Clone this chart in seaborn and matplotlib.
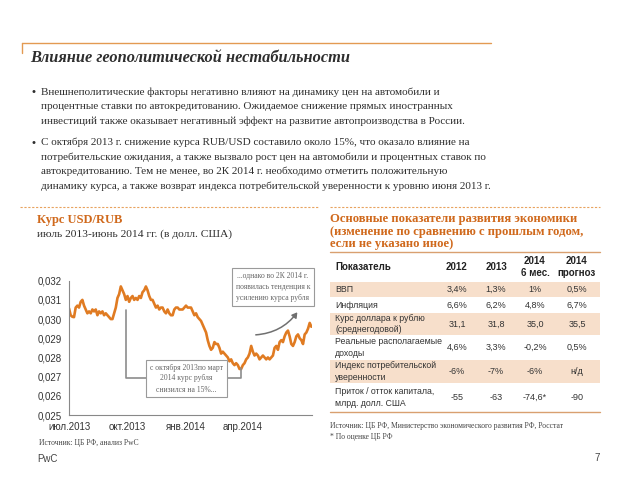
import matplotlib
matplotlib.use("Agg")
import matplotlib.pyplot as plt
import matplotlib.ticker as mticker
from matplotlib.patches import Rectangle, FancyArrowPatch
import pandas as pd
import seaborn as sns

# курс USD/RUB (долл. за рубль), июль 2013 - июль 2014
usd_rub = [
    0.03056, 0.0302, 0.03012, 0.0301, 0.0306, 0.0307, 0.0306, 0.0309, 0.0310, 0.0307,
    0.0305, 0.0303, 0.0304, 0.0303, 0.0305, 0.0304, 0.0305, 0.0302, 0.0304, 0.0303,
    0.0304, 0.0302, 0.0303, 0.0302, 0.0301, 0.0300, 0.0300, 0.0303, 0.0306, 0.0311,
    0.0313, 0.0317, 0.0315, 0.0313, 0.0310, 0.0312, 0.0309, 0.0311, 0.0312, 0.0310,
    0.0311, 0.0310, 0.0312, 0.0311, 0.0314, 0.0315, 0.0317, 0.0315, 0.0312, 0.0310,
    0.0310, 0.0308, 0.0306, 0.0307, 0.0305, 0.0306, 0.0306, 0.0304, 0.0303, 0.0305,
    0.0303, 0.0302, 0.0302, 0.0305, 0.0306, 0.0306, 0.0305, 0.0305, 0.0305, 0.0306,
    0.0307, 0.0306, 0.0306, 0.0306, 0.0304, 0.0302, 0.0303, 0.0301, 0.0300, 0.0299,
    0.0297, 0.0295, 0.0293, 0.0289, 0.0286, 0.0284, 0.0285, 0.0288, 0.0287, 0.0287,
    0.0285, 0.0282, 0.0283, 0.0282, 0.0281, 0.0280, 0.0278, 0.0279, 0.0277, 0.0276,
    0.0277, 0.0276, 0.0274, 0.0274, 0.0276, 0.0277, 0.0279, 0.0280, 0.0282, 0.0286,
    0.0283, 0.0281, 0.0282, 0.0281, 0.0279, 0.0280, 0.0281, 0.0280, 0.0279, 0.0280,
    0.0279, 0.0280, 0.0281, 0.0285, 0.0286, 0.0284, 0.0288, 0.0289, 0.0288, 0.0291,
    0.0293, 0.0294, 0.0291, 0.0287, 0.0286, 0.0288, 0.0291, 0.0292, 0.0290, 0.0289,
    0.0287, 0.0292, 0.0293, 0.0295, 0.0298, 0.0296,
]
date_start = "2013-07-01"
date_end = "2014-07-19"
x_ticks = ["2013-07-01", "2013-10-01", "2014-01-01", "2014-04-01", "2014-07-20"]
x_tick_labels = ["июл.2013", "окт.2013", "янв.2014", "апр.2014", ""]
y_ticks = [0.025, 0.026, 0.027, 0.028, 0.029, 0.030, 0.031, 0.032]

# таблица
table_header = ["Показатель", "2012", "2013", "2014\n6 мес.", "2014\nпрогноз"]
indicators = ["ВВП", "Инфляция", "Курс доллара к рублю\n(среднегодовой)",
              "Реальные располагаемые\nдоходы", "Индекс потребительской\nуверенности",
              "Приток / отток капитала,\nмлрд. долл. США"]
v2012 = ["3,4%", "6,6%", "31,1", "4,6%", "-6%", "-55"]
v2013 = ["1,3%", "6,2%", "31,8", "3,3%", "-7%", "-63"]
v2014_h1 = ["1%", "4,8%", "35,0", "-0,2%", "-6%", "-74,6*"]
v2014_fc = ["0,5%", "6,7%", "35,5", "0,5%", "н/д", "-90"]

bullet1 = ["Внешнеполитические факторы негативно влияют на динамику цен на автомобили и",
           "процентные ставки по автокредитованию. Ожидаемое снижение прямых иностранных",
           "инвестиций также оказывает негативный эффект на развитие автопроизводства в России."]
bullet2 = ["С октября 2013 г. снижение курса RUB/USD составило около 15%, что оказало влияние на",
           "потребительские ожидания, а также вызвало рост цен на автомобили и процентных ставок по",
           "автокредитованию. Тем не менее, во 2К 2014 г. необходимо отметить положительную",
           "динамику курса, а также возврат индекса потребительской уверенности к уровню июня 2013 г."]

ORANGE = "#E07B22"
ORANGE_T = "#D0691C"
PEACH = "#F7DFCB"
DARK = "#2E2E2E"
GREY = "#666666"
SERIF = ["Liberation Serif", "DejaVu Serif"]

sns.set_style("white")
plt.rcParams["font.family"] = ["Liberation Sans", "DejaVu Sans"]

W, H = 638, 479
fig = plt.figure(figsize=(W / 100, H / 100), dpi=100)


def rect(l, t, r, b):
    return [l / W, 1 - b / H, (r - l) / W, (b - t) / H]


# --- график курса ---
ax = fig.add_axes(rect(69, 280.7, 312, 415))
df = pd.DataFrame({"date": pd.date_range(date_start, date_end, periods=len(usd_rub)),
                   "rate": usd_rub})
sns.lineplot(data=df, x="date", y="rate", ax=ax, color=ORANGE, lw=1.9)
ax.set_ylim(0.025, 0.032)
ax.set_xlim(pd.Timestamp(x_ticks[0]), pd.Timestamp(x_ticks[-1]))
ax.set_yticks(y_ticks)
ax.yaxis.set_major_formatter(mticker.FuncFormatter(lambda v, p: f"{v:.3f}".replace(".", ",")))
ax.set_xticks(pd.to_datetime(x_ticks))
ax.set_xticklabels(x_tick_labels)
ax.set_xlabel("")
ax.set_ylabel("")
ax.patch.set_alpha(0)
for s in ["top", "right"]:
    ax.spines[s].set_visible(False)
for s in ["left", "bottom"]:
    ax.spines[s].set_color("#888888")
    ax.spines[s].set_linewidth(0.8)
ax.tick_params(axis="both", labelsize=7, colors="#888888", labelcolor="#333333",
               length=3, width=0.8, direction="out", pad=2)

# --- холст для текста и таблицы ---
cv = fig.add_axes([0, 0, 1, 1], zorder=5)
cv.set_xlim(0, W)
cv.set_ylim(H, 0)
cv.axis("off")
cv.patch.set_alpha(0)

cv.plot([22, 491], [43, 43], color="#E39A52", lw=1)
cv.plot([22, 22], [43, 53], color="#E39A52", lw=1)
cv.text(30, 58, "Влияние геополитической нестабильности", family=SERIF, fontsize=11.8,
        weight="bold", style="italic", color=DARK, va="center")

for lines, y0 in [(bullet1, 92), (bullet2, 142.5)]:
    cv.text(31, y0, "•", fontsize=8, color=DARK, va="center")
    for i, line in enumerate(lines):
        cv.text(41, y0 + i * 14.5, line, family=SERIF, fontsize=8.0, color=DARK, va="center")

cv.plot([20, 318], [207, 207], color="#E8A35E", lw=0.8, ls=(0, (2, 1.5)))
cv.plot([330, 600], [207, 207], color="#E8A35E", lw=0.8, ls=(0, (2, 1.5)))

cv.text(37, 220, "Курс USD/RUB", family=SERIF, fontsize=9, weight="bold",
        color=ORANGE_T, va="center")
cv.text(37, 234, "июль 2013-июнь 2014 гг. (в долл. США)", family=SERIF, fontsize=8.25,
        color=DARK, va="center")

# аннотации
box = dict(boxstyle="square,pad=0.5", fc="white", ec="#9A9A9A", lw=0.8)
cv.text(186.5, 378.5, "с октября 2013по март\n2014 курс рубля\nснизился на 15%...",
        family=SERIF, fontsize=5.5, color=GREY, ha="center", va="center",
        linespacing=1.5, bbox=box)
cv.plot([126, 126, 146], [310, 378, 378], color="#8C8C8C", lw=1.2)
cv.plot([227, 240.7, 240.7], [378, 378, 368], color="#8C8C8C", lw=1.2)
cv.text(273, 287, "...однако во 2К 2014 г.\nпоявилась тенденция к\nусилению курса рубля",
        family=SERIF, fontsize=5.5, color=GREY, ha="center", va="center",
        linespacing=1.5, bbox=box)
cv.add_patch(FancyArrowPatch((253, 335), (299, 310), connectionstyle="arc3,rad=0.25",
                             arrowstyle="-|>,head_length=3,head_width=1.8",
                             color="#707070", lw=1.1))

cv.text(39, 443, "Источник: ЦБ РФ, анализ PwC", family=SERIF, fontsize=5.5,
        color="#444444", va="center")
cv.text(37, 459, "PwC", fontsize=7, color="#444444", va="center")
cv.text(600, 458, "7", fontsize=7, color="#444444", va="center", ha="right")

# --- таблица ---
for i, line in enumerate(["Основные показатели развития экономики",
                          "(изменение по сравнению с прошлым годом,",
                          "если не указано иное)"]):
    cv.text(330, 219 + i * 12.7, line, family=SERIF, fontsize=9.1, weight="bold",
            color=ORANGE_T, va="center")

row_edges = [252, 282, 297, 313, 335, 360, 383, 412]
col_x = [335, 457, 496, 535, 577]
for r in range(len(indicators)):
    if r % 2 == 0:
        cv.add_patch(Rectangle((330, row_edges[r + 1]), 270,
                               row_edges[r + 2] - row_edges[r + 1], fc=PEACH, ec="none"))
cv.plot([330, 600], [252, 252], color="#D9A070", lw=1)
cv.plot([330, 600], [412, 412], color="#D9A070", lw=1)

yh = (row_edges[0] + row_edges[1]) / 2
for j, h in enumerate(table_header):
    cv.text(col_x[j], yh, h, fontsize=7, weight="bold", color="#222222",
            ha="left" if j == 0 else "center", va="center", linespacing=1.2)
for r, name in enumerate(indicators):
    yc = (row_edges[r + 1] + row_edges[r + 2]) / 2
    cv.text(col_x[0], yc, name, fontsize=6.3, color="#333333", va="center", linespacing=1.3)
    for j, col in enumerate([v2012, v2013, v2014_h1, v2014_fc]):
        cv.text(col_x[j + 1], yc, col[r], fontsize=6.5, color="#333333",
                ha="center", va="center")

cv.text(330, 425.7, "Источник: ЦБ РФ, Министерство экономического развития РФ, Росстат",
        family=SERIF, fontsize=5.5, color="#444444", va="center")
cv.text(330, 436.7, "* По оценке ЦБ РФ", family=SERIF, fontsize=5.5,
        color="#444444", va="center")

fig.savefig("out.png", dpi=100)
